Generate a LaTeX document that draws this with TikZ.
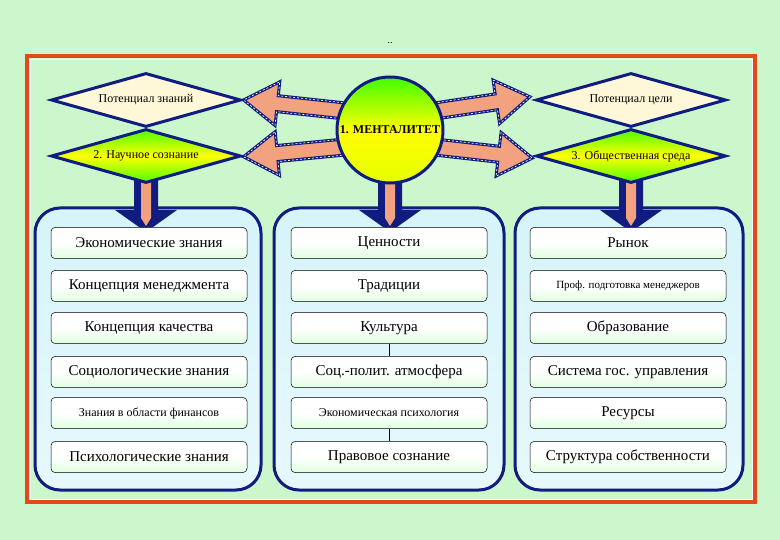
\documentclass[tikz,border=0pt]{standalone}
\usepackage{fontspec}
\setmainfont{Liberation Serif}
\usetikzlibrary{shapes.geometric}
\definecolor{bgg}{HTML}{CCF7CC}
\definecolor{navy}{HTML}{101C80}
\definecolor{salm}{HTML}{F2A27E}
\definecolor{frm}{HTML}{E24A1A}
\definecolor{pan}{HTML}{D6F4FA}
\definecolor{cream}{HTML}{FFF8D8}
\begin{document}
\begin{tikzpicture}[x=1pt,y=-1pt,
  dia/.style={diamond,draw=navy,line width=3pt,minimum width=190pt,minimum height=54pt,aspect=3.5,inner sep=0pt,font=\fontsize{12}{13}\selectfont},
  panel/.style={draw=navy,line width=3pt,rounded corners=25pt,top color=pan,bottom color=pan!60!white},
  item/.style={draw=black,line width=0.5pt,rounded corners=4pt,minimum width=196pt,minimum height=31pt,inner sep=0pt,top color=white,bottom color=green!12!white,middle color=white,font=\fontsize{15}{17}\selectfont},
  sitem/.style={item,font=\fontsize{12}{14}\selectfont},
  conn/.style={draw=black,line width=0.6pt},
  fat/.style={fill=salm,draw=navy,line width=3pt,line join=miter},
  fatw/.style={draw=white,line width=0.7pt,dash pattern=on 2pt off 2pt}]
\fill[bgg] (0,0) rectangle (780,540);
\useasboundingbox (0,0) rectangle (780,540);
\node (dots) at (390,43) {\fontsize{10}{10}\selectfont ..};
\draw[frm,line width=4pt] (27,56) rectangle (755,502);
\draw[white,line width=0.8pt] (30,59) rectangle (752,499);
% panels
\draw[panel] (35,208) rectangle (261,490);
\draw[panel] (274,208) rectangle (504,490);
\draw[panel] (515,208) rectangle (743,490);
% fat arrows
\newcommand\fatarr[3]{%
 \begin{scope}[shift={#1},rotate=#2]
  \path[fat] (0,-8) -- (#3-34,-8) -- (#3-34,-22) -- (#3,0) -- (#3-34,22) -- (#3-34,8) -- (0,8) -- cycle;
  \path[fatw] (0,-8) -- (#3-34,-8) -- (#3-34,-22) -- (#3,0) -- (#3-34,22) -- (#3-34,8) -- (0,8);
 \end{scope}}
\fatarr{(345,111)}{173.8}{102}
\fatarr{(345,147)}{-174.5}{102}
\fatarr{(435,111)}{8.5}{96}
\fatarr{(435,147)}{-6.5}{98}
% down arrows
\newcommand\downarr[2]{%
 \path[fill=navy] (#1-12,#2) -- (#1+12,#2) -- (#1+12,210) -- (#1+31,210) -- (#1,232) -- (#1-31,210) -- (#1-12,210) -- cycle;
 \path[fill=salm] (#1-5,#2) -- (#1+5,#2) -- (#1+5,218) -- (#1,226) -- (#1-5,218) -- cycle;}
\downarr{146}{178}
\downarr{390}{180}
\downarr{631}{178}
% diamonds
\node[dia,fill=cream] (pk) at (146,100) {Потенциал знаний};
\node[dia,top color=green!70!yellow,bottom color=green!70!yellow,middle color=yellow] (ns) at (146,156) {2. Научное сознание};
\node[dia,fill=cream] (pc) at (631,100) {Потенциал цели};
\node[dia,top color=green!70!yellow,bottom color=green!70!yellow,middle color=yellow] (os) at (631,156) {3. Общественная среда};
\node[circle,draw=navy,line width=3pt,minimum size=106pt,inner sep=0pt,top color=green!75!yellow,bottom color=yellow!90!green,middle color=yellow,font=\bfseries\fontsize{12}{13}\selectfont] (m) at (390,130) {1. МЕНТАЛИТЕТ};
% items
\foreach \n/\y/\t in {a1/243/Экономические знания,a2/286/Концепция менеджмента,a3/328/Концепция качества,a4/372/Социологические знания,a6/457/Психологические знания}
  \node[item] (\n) at (149,\y) {\t};
\node[sitem] (a5) at (149,413) {Знания в области финансов};
\foreach \n/\y/\t in {b1/243/Ценности,b2/286/Традиции,b3/328/Культура,b4/372/Соц.-полит. атмосфера,b6/457/Правовое сознание}
  \node[item] (\n) at (389,\y) {\t};
\node[sitem] (b5) at (389,413) {Экономическая психология};
\foreach \n/\y/\t in {c1/243/Рынок,c3/328/Образование,c4/372/Система гос. управления,c5/413/Ресурсы,c6/457/Структура собственности}
  \node[item] (\n) at (628,\y) {\t};
\node[sitem,font=\fontsize{11}{13}\selectfont] (c2) at (628,286) {Проф. подготовка менеджеров};
\draw[conn] (b3) -- (b4);
\draw[conn] (b5) -- (b6);
\end{tikzpicture}
\end{document}
